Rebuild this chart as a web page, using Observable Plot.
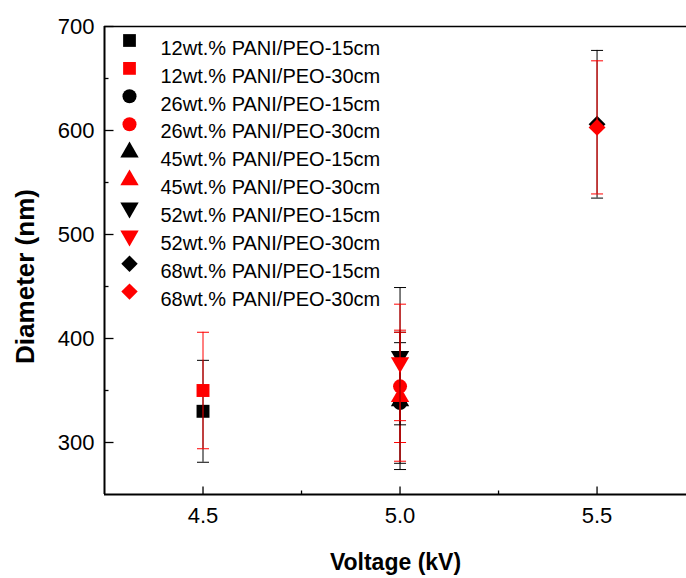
<!DOCTYPE html>
<html><head><meta charset="utf-8">
<script src="https://cdn.jsdelivr.net/npm/d3@7"></script>
<script src="https://cdn.jsdelivr.net/npm/@observablehq/plot@0.6"></script>
<style>body{margin:0;background:#fff}</style>
</head><body><div id="chart"></div>
<script>
// ---- data ----
const seriesNames = [
  "12wt.% PANI/PEO-15cm", "12wt.% PANI/PEO-30cm",
  "26wt.% PANI/PEO-15cm", "26wt.% PANI/PEO-30cm",
  "45wt.% PANI/PEO-15cm", "45wt.% PANI/PEO-30cm",
  "52wt.% PANI/PEO-15cm", "52wt.% PANI/PEO-30cm",
  "68wt.% PANI/PEO-15cm", "68wt.% PANI/PEO-30cm"
];
const seriesColors = ["#000000","#ff0000","#000000","#ff0000","#000000","#ff0000","#000000","#ff0000","#000000","#ff0000"];
const seriesShapes = ["square","square","circle","circle","triangle","triangle","triangleDown","triangleDown","diamond","diamond"];
const voltage  = [4.5, 4.5, 5.0, 5.0, 5.0, 5.0, 5.0, 5.0, 5.5, 5.5];
const diameter = [330, 350, 338, 354, 340, 344, 383, 377, 606, 603];
const errorSD  = [49, 56, 58, 54, 66, 62, 66, 56, 71, 64];
const xTickValues = [4.5, 5.0, 5.5];
const xMinorTicks = [4.75, 5.25];
const yTickValues = [300, 400, 500, 600, 700];
const yMinorTicks = [350, 450, 550, 650];
const xDomain = [4.25, 5.727];
const yDomain = [250, 700];
const xTitle = "Voltage (kV)";
const yTitle = "Diameter (nm)";

// ---- symbols ----
const triangleDown = {
  draw(context, size) {
    const s3 = Math.sqrt(3);
    const y = -Math.sqrt(size / (s3 * 3));
    context.moveTo(0, -y * 2);
    context.lineTo(-s3 * y, y);
    context.lineTo(s3 * y, y);
    context.closePath();
  }
};
const capSymbol = {
  draw(context) { context.moveTo(-6, 0); context.lineTo(6, 0); }
};
// inward tick glyphs
const tickUp = len => ({ draw(context) { context.moveTo(0, 0); context.lineTo(0, -len); } });
const tickRight = len => ({ draw(context) { context.moveTo(0, 0); context.lineTo(len, 0); } });

const symbolMap = {square: "square", circle: "circle", triangle: "triangle", triangleDown, diamond: "diamond2"};
const radiusMap = {square: 7.3, circle: 7, triangle: 6.8, triangleDown: 6.8, diamond: 7.6};
const legendRadius = {square: 7.2, circle: 7, triangle: 6.8, triangleDown: 6.8, diamond: 7.4};

const marks = [];
// frame lines
marks.push(Plot.ruleY([yDomain[1]], {stroke: "#000", strokeWidth: 1.5}));
marks.push(Plot.ruleY([yDomain[0]], {stroke: "#000", strokeWidth: 2}));
marks.push(Plot.ruleX([xDomain[0]], {stroke: "#000", strokeWidth: 2}));

// tick labels
marks.push(Plot.axisX(xTickValues, {tickSize: 0, tickPadding: 13, tickFormat: d3.format(".1f"), fontSize: 22, label: null}));
marks.push(Plot.axisY(yTickValues, {tickSize: 0, tickPadding: 10, fontSize: 22, label: null}));
// inward ticks
marks.push(Plot.dot(xTickValues, {x: d => d, y: () => yDomain[0], symbol: tickUp(8), stroke: "#000", fill: "none", strokeWidth: 1.3}));
marks.push(Plot.dot(xMinorTicks, {x: d => d, y: () => yDomain[0], symbol: tickUp(4), stroke: "#000", fill: "none", strokeWidth: 1.3}));
marks.push(Plot.dot(yTickValues, {x: () => xDomain[0], y: d => d, symbol: tickRight(9), stroke: "#000", fill: "none", strokeWidth: 1.3}));
marks.push(Plot.dot(yMinorTicks, {x: () => xDomain[0], y: d => d, symbol: tickRight(4), stroke: "#000", fill: "none", strokeWidth: 1.3}));

// axis titles
marks.push(Plot.text([xTitle], {x: null, y: null, text: d => d, frameAnchor: "bottom", textAnchor: "middle", dy: 75, fontSize: 23, fontWeight: "bold"}));
marks.push(Plot.text([yTitle], {x: null, y: null, text: d => d, frameAnchor: "left", textAnchor: "middle", dx: -79, dy: 16, rotate: -90, fontSize: 26, fontWeight: "bold"}));

// series: error bar, caps, marker
seriesNames.forEach((name, i) => {
  const c = seriesColors[i];
  const idx = [i];
  marks.push(Plot.ruleX(idx, {x: j => voltage[j], y1: j => diameter[j] - errorSD[j], y2: j => diameter[j] + errorSD[j], stroke: c, strokeWidth: 1}));
  marks.push(Plot.dot(idx, {x: j => voltage[j], y: j => diameter[j] + errorSD[j], symbol: capSymbol, stroke: c, fill: "none", strokeWidth: 1, r: 5}));
  marks.push(Plot.dot(idx, {x: j => voltage[j], y: j => diameter[j] - errorSD[j], symbol: capSymbol, stroke: c, fill: "none", strokeWidth: 1, r: 5}));
  marks.push(Plot.dot(idx, {x: j => voltage[j], y: j => diameter[j], symbol: symbolMap[seriesShapes[i]], fill: c, stroke: "none", r: radiusMap[seriesShapes[i]]}));
});

// legend inside frame
const legendStep = 27.9;
seriesNames.forEach((name, i) => {
  marks.push(Plot.dot([name], {x: null, y: null, frameAnchor: "top-left", dx: 25, dy: 14 + i * legendStep,
    symbol: symbolMap[seriesShapes[i]], fill: seriesColors[i], stroke: "none", r: legendRadius[seriesShapes[i]]}));
  marks.push(Plot.text([name], {x: null, y: null, text: d => d, frameAnchor: "top-left", dx: 56, dy: 14 + i * legendStep,
    textAnchor: "start", fontSize: 20, fill: "#000"}));
});

const chart = Plot.plot({
  width: 686,
  height: 578,
  marginLeft: 104,
  marginRight: 0,
  marginTop: 26,
  marginBottom: 84,
  x: {domain: xDomain, axis: null},
  y: {domain: yDomain, axis: null},
  style: {fontFamily: "'Liberation Sans', Arial, sans-serif", color: "#000", background: "#fff", overflow: "visible"},
  marks
});
document.getElementById("chart").appendChild(chart);
</script>
</body></html>
